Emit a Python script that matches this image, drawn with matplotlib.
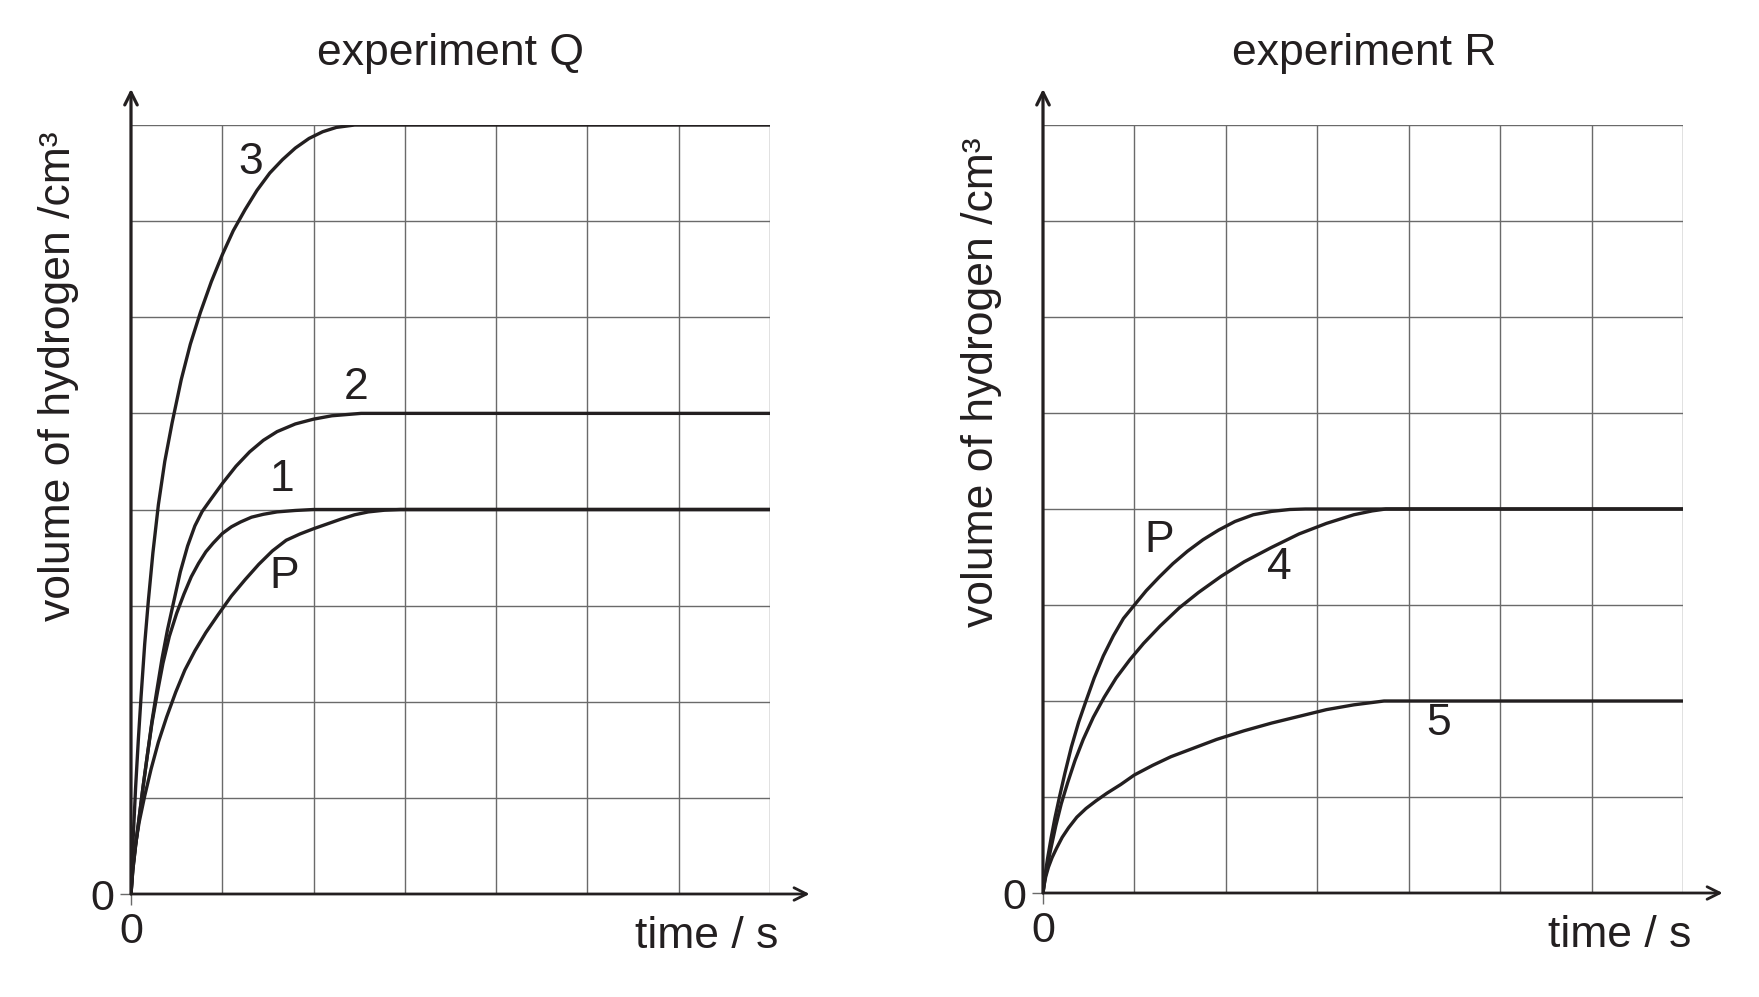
import matplotlib
matplotlib.use("Agg")
import matplotlib.pyplot as plt

plt.rcParams['font.family'] = ['Liberation Sans', 'DejaVu Sans']

# ---------------- data (grid units) ----------------
titles = ["experiment Q", "experiment R"]
x_label = "time / s"
y_label = "volume of hydrogen /cm\u00b3"

# experiment Q
q3_x = [0, 0.025, 0.05, 0.08, 0.11, 0.15, 0.19, 0.24, 0.30, 0.37, 0.45, 0.55, 0.65, 0.76, 0.88,
        1.0, 1.12, 1.25, 1.38, 1.52, 1.66, 1.8, 1.95, 2.1, 2.25, 2.45, 7]
q3_y = [0, 0.6, 1.1, 1.6, 2.05, 2.6, 3.05, 3.55, 4.05, 4.5, 4.9, 5.35, 5.72, 6.05, 6.37,
        6.65, 6.9, 7.12, 7.32, 7.5, 7.64, 7.76, 7.86, 7.93, 7.975, 8.0, 8.0]

q2_x = [0, 0.02, 0.05, 0.09, 0.13, 0.18, 0.23, 0.28, 0.34, 0.40, 0.47, 0.54, 0.62, 0.7, 0.78,
        0.87, 1.0, 1.15, 1.3, 1.45, 1.6, 1.8, 2.0, 2.2, 2.52, 7]
q2_y = [0, 0.25, 0.5, 0.8, 1.1, 1.45, 1.8, 2.1, 2.45, 2.75, 3.05, 3.35, 3.62, 3.83, 3.98,
        4.1, 4.27, 4.45, 4.6, 4.72, 4.81, 4.89, 4.94, 4.975, 5.0, 5.0]

q1_x = [0, 0.02, 0.05, 0.09, 0.13, 0.18, 0.23, 0.29, 0.35, 0.42, 0.5, 0.58, 0.66, 0.74, 0.82,
        0.9, 1.0, 1.1, 1.2, 1.32, 1.45, 1.6, 1.8, 2.0, 7]
q1_y = [0, 0.25, 0.5, 0.8, 1.1, 1.45, 1.78, 2.1, 2.4, 2.68, 2.92, 3.12, 3.3, 3.44, 3.56,
        3.65, 3.75, 3.82, 3.87, 3.92, 3.95, 3.975, 3.99, 4.0, 4.0]

qp_x = [0, 0.02, 0.05, 0.09, 0.15, 0.22, 0.3, 0.39, 0.49, 0.59, 0.7, 0.82, 0.95, 1.1, 1.25,
        1.4, 1.55, 1.7, 1.85, 2.0, 2.15, 2.3, 2.45, 2.6, 2.78, 2.95, 7]
qp_y = [0, 0.28, 0.52, 0.75, 1.02, 1.3, 1.58, 1.84, 2.1, 2.33, 2.53, 2.72, 2.9, 3.1, 3.27,
        3.43, 3.57, 3.68, 3.745, 3.8, 3.85, 3.9, 3.945, 3.975, 3.993, 4.0, 4.0]

# experiment R
rp_x = [0, 0.02, 0.05, 0.09, 0.13, 0.18, 0.24, 0.31, 0.39, 0.47, 0.56, 0.66, 0.77, 0.88, 1.0,
        1.13, 1.27, 1.42, 1.58, 1.75, 1.92, 2.1, 2.3, 2.5, 2.7, 2.87, 7]
rp_y = [0, 0.17, 0.36, 0.58, 0.78, 1.0, 1.25, 1.52, 1.78, 2.0, 2.24, 2.47, 2.68, 2.86, 3.0,
        3.15, 3.29, 3.43, 3.56, 3.68, 3.78, 3.87, 3.94, 3.975, 3.995, 4.0, 4.0]

r4_x = [0, 0.02, 0.05, 0.09, 0.14, 0.2, 0.27, 0.35, 0.44, 0.55, 0.67, 0.8, 0.95, 1.1, 1.28,
        1.49, 1.7, 1.95, 2.2, 2.5, 2.8, 3.1, 3.4, 3.6, 3.75, 7]
r4_y = [0, 0.14, 0.3, 0.48, 0.7, 0.93, 1.15, 1.38, 1.6, 1.83, 2.04, 2.24, 2.43, 2.6, 2.78,
        2.97, 3.13, 3.3, 3.45, 3.6, 3.74, 3.85, 3.94, 3.98, 4.0, 4.0]

r5_x = [0, 0.01, 0.03, 0.06, 0.1, 0.15, 0.21, 0.28, 0.37, 0.47, 0.58, 0.7, 0.85, 1.0, 1.2,
        1.4, 1.65, 1.9, 2.2, 2.5, 2.8, 3.1, 3.4, 3.73, 7]
r5_y = [0, 0.07, 0.17, 0.27, 0.37, 0.47, 0.58, 0.68, 0.79, 0.88, 0.96, 1.04, 1.13, 1.23, 1.33,
        1.42, 1.51, 1.6, 1.69, 1.77, 1.84, 1.91, 1.96, 2.0, 2.0]

q_curves = [(q3_x, q3_y), (q2_x, q2_y), (q1_x, q1_y), (qp_x, qp_y)]
r_curves = [(rp_x, rp_y), (r4_x, r4_y), (r5_x, r5_y)]

q_labels = ["3", "2", "1", "P"]
q_label_x = [1.31, 2.47, 1.65, 1.68]
q_label_y = [7.61, 5.27, 4.31, 3.30]
r_labels = ["P", "4", "5"]
r_label_x = [1.27, 2.58, 4.33]
r_label_y = [3.67, 3.39, 1.77]

n_cols = 7
n_rows = 8

# ---------------- drawing ----------------
W, H = 1759, 997
fig = plt.figure(figsize=(W / 100, H / 100), dpi=100)
fig.patch.set_facecolor("white")

ink = "#231f20"
grid_c = "#6a6a6a"
FS = 32

def panel(rect, curves, labels, lx, ly, title, title_xy, ylab_xy):
    ax = fig.add_axes(rect)
    ax.set_xlim(0, n_cols)
    ax.set_ylim(0, n_rows)
    for s in ax.spines.values():
        s.set_visible(False)
    ax.set_xticks([0])
    ax.set_yticks([0])
    ax.set_xticks(range(1, n_cols + 1), minor=True)
    ax.set_yticks(range(1, n_rows + 1), minor=True)
    ax.set_xticklabels(["0"])
    ax.set_yticklabels(["0"])
    ax.tick_params(which="major", length=8, width=1.0, color=grid_c,
                   labelsize=FS - 1, labelcolor=ink, direction="out")
    ax.tick_params(axis="x", which="major", pad=5)
    ax.tick_params(axis="y", which="major", pad=4)
    ax.tick_params(which="minor", length=0)
    ax.grid(True, which="minor", color=grid_c, linewidth=1.0)
    ax.set_axisbelow(True)
    for x, y in curves:
        ax.plot(x, y, color=ink, linewidth=2.4, solid_capstyle="butt",
                solid_joinstyle="round", zorder=3)
    for t, x, y in zip(labels, lx, ly):
        ax.text(x, y, t, fontsize=FS, color=ink, ha="center", va="center")
    # axes with arrows
    ax.annotate("", xy=(1.062, 0), xytext=(0, 0), xycoords="axes fraction",
                arrowprops=dict(arrowstyle="->,head_length=0.9,head_width=0.45",
                                color=ink, lw=2.0, shrinkA=0, shrinkB=0),
                annotation_clip=False, zorder=5)
    ax.annotate("", xy=(0, 1.047), xytext=(0, 0), xycoords="axes fraction",
                arrowprops=dict(arrowstyle="->,head_length=0.9,head_width=0.45",
                                color=ink, lw=2.3, shrinkA=0, shrinkB=0),
                annotation_clip=False, zorder=5)
    ax.text(1.0125, -0.055, x_label, transform=ax.transAxes, fontsize=FS,
            color=ink, ha="right", va="center")
    fig.text(title_xy[0], title_xy[1], title, fontsize=FS, color=ink,
             ha="center", va="center")
    fig.text(ylab_xy[0], ylab_xy[1], y_label, fontsize=FS, color=ink,
             ha="center", va="center", rotation=90)
    return ax

panel([131 / W, 1 - 894 / H, 639 / W, 769 / H], q_curves, q_labels,
      q_label_x, q_label_y, titles[0], (451 / W, 1 - 54 / H), (59 / W, 1 - 376 / H))
panel([1043 / W, 1 - 893 / H, 640 / W, 768 / H], r_curves, r_labels,
      r_label_x, r_label_y, titles[1], (1364 / W, 1 - 54 / H), (981 / W, 1 - 382 / H))

fig.savefig("out.png", dpi=100, facecolor="white")
